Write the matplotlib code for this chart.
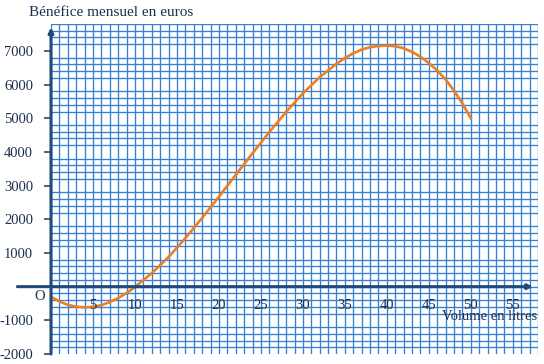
import numpy as np
import matplotlib.pyplot as plt

# values
volume = [0, 1, 2, 3, 4, 5, 6, 7, 8, 9, 10, 12, 14, 16, 18, 20, 22, 24, 26,
          28, 30, 32, 34, 35, 36, 37, 38, 39, 40, 41, 42, 43, 44, 45, 46, 47,
          48, 49, 50]
benefice = [-300, -440, -540, -595, -615, -600, -550, -460, -340, -190, -10,
            400, 880, 1440, 2040, 2670, 3320, 3960, 4590, 5190, 5740, 6220,
            6620, 6790, 6930, 7040, 7110, 7150, 7160, 7140, 7080, 6970, 6830,
            6640, 6420, 6150, 5820, 5440, 5000]

x_labels = [5, 10, 15, 20, 25, 30, 35, 40, 45, 50, 55]
y_labels = [-2000, -1000, 1000, 2000, 3000, 4000, 5000, 6000, 7000]

grid_col = '#3580d2'
axis_col = '#1f4a7a'
text_col = '#1c2f4f'
plt.rcParams['font.family'] = ['Liberation Serif', 'DejaVu Serif']

fig = plt.figure(figsize=(5.44, 3.64), dpi=100)
ax = fig.add_axes([51 / 544, 10 / 364, 487 / 544, 330 / 364])
ax.set_xlim(0, 58)
ax.set_ylim(-2000, 7800)

# squared paper
ax.set_xticks(np.arange(0, 59, 1), minor=True)
ax.set_yticks(np.arange(-2000, 7801, 200), minor=True)
ax.grid(which='minor', color=grid_col, linewidth=0.95)
ax.tick_params(which='minor', length=0)
for s in ax.spines.values():
    s.set_visible(False)

ax.set_xticks([])
ax.set_yticks(y_labels)
ax.set_yticklabels([str(v) for v in y_labels])
ax.tick_params(axis='y', which='major', length=5, width=1.2, color=axis_col,
               pad=8, labelsize=10.5, labelcolor=text_col)

# the curve
ax.plot(volume, benefice, color='#f07d1e', linewidth=1.9, zorder=4)

# axes with arrows
ax.annotate('', xy=(57.4, 0), xytext=(-4, 0), annotation_clip=False,
            arrowprops=dict(arrowstyle='-|>', color=axis_col, lw=2.2,
                            mutation_scale=7, shrinkA=0, shrinkB=0), zorder=5)
ax.annotate('', xy=(0, 7700), xytext=(0, -2000), annotation_clip=False,
            arrowprops=dict(arrowstyle='-|>', color=axis_col, lw=2.2,
                            mutation_scale=7, shrinkA=0, shrinkB=0), zorder=5)

for v in x_labels:
    ax.text(v, -560, str(v), ha='center', va='center', fontsize=10.5,
            color=text_col, zorder=6)
ax.text(-1.3, -300, 'O', ha='center', va='center', fontsize=10.5,
        color=text_col, clip_on=False)
ax.text(57.9, -900, 'Volume en litres', ha='right', va='center',
        fontsize=10.5, color=text_col, zorder=6)

fig.text(29 / 544, 1 - 12 / 364, 'Bénéfice mensuel en euros', ha='left',
         va='center', fontsize=11, color=text_col)

fig.savefig('out.png', dpi=100)
